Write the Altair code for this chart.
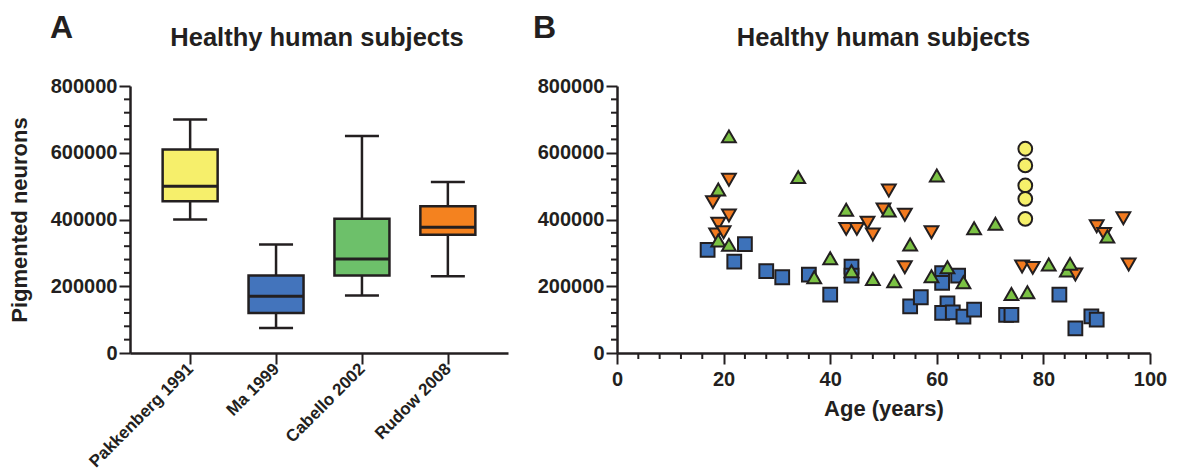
import altair as alt
import pandas as pd

FONT = "Liberation Sans"
INK = "#231F20"

# ---------------- Panel A data (box plot summaries) ----------------
studies = ["Pakkenberg 1991", "Ma 1999", "Cabello 2002", "Rudow 2008"]
whisker_low = [400000, 75000, 172000, 230000]
q1 = [455000, 120000, 232000, 354000]
median = [500000, 170000, 282000, 377000]
q3 = [610000, 232000, 402000, 440000]
whisker_high = [700000, 325000, 650000, 512000]
box_colors = ["#F6EF6B", "#4374BC", "#6DC06A", "#F4821F"]

# ---------------- Panel B data (individual subjects) ----------------
ma_age = [17, 22, 24, 28, 31, 36, 40, 44, 44, 55, 57, 61, 61, 64, 62, 61, 63, 65, 67, 73, 74, 83, 86, 89, 90]
ma_neurons = [309000, 274000, 326000, 245000, 227000, 235000, 175000, 259000, 232000, 140000,
              167000, 239000, 210000, 232000, 149000, 120000, 122000, 109000, 130000, 114000,
              114000, 175000, 74000, 110000, 100000]
rudow_age = [21, 18, 21, 19, 18.6, 20, 51, 50, 43, 45, 47, 48, 54, 59, 54, 76, 78, 86, 90, 91.4, 95, 96]
rudow_neurons = [519000, 452000, 412000, 387000, 355000, 362000, 487000, 430000, 372000, 372000,
                 390000, 355000, 414000, 362000, 257000, 259000, 255000, 235000, 380000, 357000,
                 404000, 265000]
cabello_age = [21, 19, 34, 19, 21, 43, 51, 40, 37, 44, 48, 52, 60, 55, 59, 62, 65, 67, 71, 74, 77, 81, 84.4, 85, 92]
cabello_neurons = [649000, 490000, 527000, 337000, 324000, 429000, 427000, 284000, 227000, 245000,
                   222000, 215000, 532000, 325000, 230000, 257000, 212000, 374000, 387000, 177000,
                   182000, 265000, 247000, 267000, 349000]
pak_age = [76.6, 76.6, 76.6, 76.6, 76.6]
pak_neurons = [612000, 562000, 502000, 462000, 402000]
point_colors = ["#F6F06B", "#3D72BA", "#7BC244", "#F27A1F"]
point_shapes = ["circle", "square", "triangle-up", "triangle-down"]

# axis tick positions
y_major = [0, 200000, 400000, 600000, 800000]
y_minor = [40000, 80000, 120000, 160000, 240000, 280000, 320000, 360000,
           440000, 480000, 520000, 560000, 640000, 680000, 720000, 760000]
x_major = [0, 20, 40, 60, 80, 100]
x_minor = [4, 8, 12, 16, 24, 28, 32, 36, 44, 48, 52, 56, 64, 68, 72, 76, 84, 88, 92, 96]

WA, HA = 378, 267
WB, HB = 533, 267

# ---------------- build tables ----------------
box_df = pd.DataFrame({
    "study": studies, "low": whisker_low, "q1": q1, "median": median,
    "q3": q3, "high": whisker_high,
})

rows = []
for name, ages, vals in [("Ma 1999", ma_age, ma_neurons),
                         ("Rudow 2008", rudow_age, rudow_neurons),
                         ("Cabello 2002", cabello_age, cabello_neurons),
                         ("Pakkenberg 1991", pak_age, pak_neurons)]:
    for a, v in zip(ages, vals):
        rows.append({"study": name, "age": a, "neurons": v})
pts_df = pd.DataFrame(rows)

yminor_df = pd.DataFrame({"v": y_minor})
xminor_df = pd.DataFrame({"v": x_minor})

yscale = alt.Scale(domain=[0, 800000], nice=False, zero=True)
color_box = alt.Color("study:N", scale=alt.Scale(domain=studies, range=box_colors), legend=None)


def y_axis(title):
    return alt.Axis(values=y_major, format="d", tickSize=11, tickWidth=2, labelPadding=2,
                    labelFontSize=20, title=title, titleFontSize=22, titlePadding=19,
                    titleFont=FONT, titleFontWeight="bold", titleColor=INK)


LETTER_Y = -48
TITLE_Y = -40

# ---------------- Panel A ----------------
xA = alt.X("study:N", sort=studies, scale=alt.Scale(type="point", padding=0.7),
           axis=alt.Axis(title=None, labelAngle=315, labelAlign="right", labelBaseline="middle",
                         labelFontSize=17, tickSize=11, tickWidth=2, labelPadding=2))
baseA = alt.Chart(box_df)
whisk = baseA.mark_rule(color=INK, strokeWidth=2.5).encode(
    x=xA, y=alt.Y("low:Q", scale=yscale, axis=y_axis("Pigmented neurons")), y2="high:Q")
boxes = baseA.mark_bar(size=55, stroke=INK, strokeWidth=2.5).encode(
    x=xA, y=alt.Y("q1:Q"), y2="q3:Q", color=color_box)
med = baseA.mark_tick(size=55, thickness=3, color=INK, opacity=1).encode(x=xA, y="median:Q")
cap_lo = baseA.mark_tick(size=34, thickness=2.5, color=INK, opacity=1).encode(x=xA, y="low:Q")
cap_hi = baseA.mark_tick(size=34, thickness=2.5, color=INK, opacity=1).encode(x=xA, y="high:Q")
minorA = alt.Chart(yminor_df).mark_rule(color=INK, strokeWidth=2).encode(
    y="v:Q", x=alt.value(-6), x2=alt.value(0))
letterA = alt.Chart(pd.DataFrame({"t": ["A"]})).mark_text(
    font=FONT, fontWeight="bold", fontSize=32, color=INK, align="left", baseline="alphabetic"
).encode(text="t:N", x=alt.value(-80), y=alt.value(LETTER_Y))
titleA = alt.Chart(pd.DataFrame({"t": ["Healthy human subjects"]})).mark_text(
    font=FONT, fontWeight="bold", fontSize=25.5, color=INK, align="center", baseline="alphabetic"
).encode(text="t:N", x=alt.value(WA / 2 - 2), y=alt.value(TITLE_Y))

panelA = alt.layer(whisk, boxes, med, cap_lo, cap_hi, minorA, letterA, titleA).properties(
    width=WA, height=HA)

# ---------------- Panel B ----------------
xB = alt.X("age:Q", scale=alt.Scale(domain=[0, 100], nice=False),
           axis=alt.Axis(values=x_major, tickSize=11, tickWidth=2, labelFontSize=20,
                         labelFlush=False, labelPadding=5, title="Age (years)", titleFontSize=22,
                         titlePadding=9, titleFont=FONT, titleFontWeight="bold", titleColor=INK))
pts = alt.Chart(pts_df).mark_point(filled=True, size=190, stroke=INK, strokeWidth=2,
                                   opacity=1, fillOpacity=1).encode(
    x=xB,
    y=alt.Y("neurons:Q", scale=yscale, axis=y_axis(None)),
    fill=alt.Fill("study:N", scale=alt.Scale(domain=studies, range=point_colors), legend=None),
    shape=alt.Shape("study:N", scale=alt.Scale(domain=studies, range=point_shapes), legend=None),
)
minorBy = alt.Chart(yminor_df).mark_rule(color=INK, strokeWidth=2).encode(
    y="v:Q", x=alt.value(-6), x2=alt.value(0))
minorBx = alt.Chart(xminor_df).mark_rule(color=INK, strokeWidth=2).encode(
    x="v:Q", y=alt.value(HB), y2=alt.value(HB + 6))
letterB = alt.Chart(pd.DataFrame({"t": ["B"]})).mark_text(
    font=FONT, fontWeight="bold", fontSize=32, color=INK, align="left", baseline="alphabetic"
).encode(text="t:N", x=alt.value(-84), y=alt.value(LETTER_Y))
titleB = alt.Chart(pd.DataFrame({"t": ["Healthy human subjects"]})).mark_text(
    font=FONT, fontWeight="bold", fontSize=25.5, color=INK, align="center", baseline="alphabetic"
).encode(text="t:N", x=alt.value(WB / 2), y=alt.value(TITLE_Y))

panelB = alt.layer(minorBy, minorBx, pts, letterB, titleB).properties(width=WB, height=HB)

chart = alt.hconcat(panelA, panelB, spacing=25).properties(
    padding={"left": 0, "top": 4, "right": 0, "bottom": 2}
).configure_view(stroke=None).configure_axis(
    labelFont=FONT, labelFontWeight="bold", labelColor=INK, domainColor=INK, tickColor=INK,
    domainWidth=2.5, grid=False,
)

chart.save("out.html", embed_options={"renderer": "svg", "actions": False})
